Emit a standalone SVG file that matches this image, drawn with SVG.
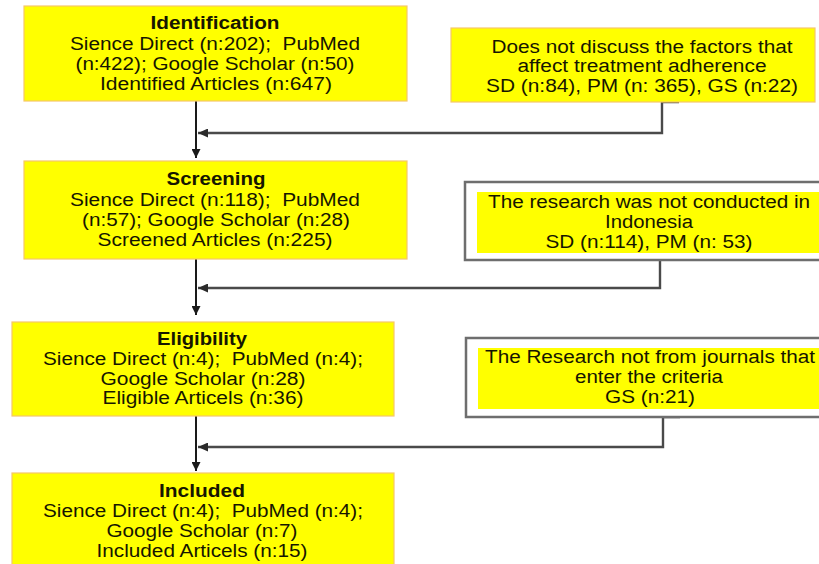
<svg xmlns="http://www.w3.org/2000/svg" width="819" height="564" viewBox="0 0 819 564">
<style>
.yb{fill:#ffff00;stroke:#f6c76a;stroke-width:1.2}
.ob{fill:#ffffff;stroke:#6e6e6e;stroke-width:2.5}
.iy{fill:#ffff00;stroke:none}
text{font-family:"Liberation Sans",Arial,sans-serif;font-size:18px;fill:#161600;text-anchor:middle}
.h{font-weight:bold}
.main{fill:none;stroke:#1a1a1a;stroke-width:2}
.side{fill:none;stroke:#4a4a4a;stroke-width:2.4}
</style>
<defs>
<marker id="ad" markerWidth="10" markerHeight="9" refX="9" refY="4.5" orient="auto" markerUnits="userSpaceOnUse">
<path d="M0,0 L9,4.5 L0,9 Z" fill="#1a1a1a"/>
</marker>
<marker id="al" markerWidth="11" markerHeight="9" refX="10" refY="4.5" orient="auto" markerUnits="userSpaceOnUse">
<path d="M0,0 L10,4.5 L0,9 Z" fill="#2a2a2a"/>
</marker>
</defs>

<g id="connectors">
<path class="main" d="M196,101 V158" marker-end="url(#ad)"/>
<path class="main" d="M196,259 V315" marker-end="url(#ad)"/>
<path class="main" d="M196,416 V471" marker-end="url(#ad)"/>
<path class="side" d="M679,102 H662 V133 H198" marker-end="url(#al)"/>
<path class="side" d="M678,259 H660 V288 H198" marker-end="url(#al)"/>
<path class="side" d="M680,417 H663 V447 H198" marker-end="url(#al)"/>
</g>

<g id="identification">
<rect class="yb" x="24" y="6" width="383" height="95"/>
<text class="h" x="215" y="29" textLength="129" lengthAdjust="spacingAndGlyphs">Identification</text>
<text x="215" y="50" textLength="290" lengthAdjust="spacingAndGlyphs" xml:space="preserve">Sience Direct (n:202);  PubMed</text>
<text x="215" y="70" textLength="279" lengthAdjust="spacingAndGlyphs">(n:422); Google Scholar (n:50)</text>
<text x="216" y="90" textLength="232" lengthAdjust="spacingAndGlyphs">Identified Articles (n:647)</text>
</g>

<g id="excluded1">
<rect class="yb" x="451" y="28" width="364" height="74"/>
<text x="642" y="53" textLength="301" lengthAdjust="spacingAndGlyphs">Does not discuss the factors that</text>
<text x="642" y="72" textLength="249" lengthAdjust="spacingAndGlyphs">affect treatment adherence</text>
<text x="642" y="92" textLength="312" lengthAdjust="spacingAndGlyphs">SD (n:84), PM (n: 365), GS (n:22)</text>
</g>

<g id="screening">
<rect class="yb" x="24" y="161" width="383" height="98"/>
<text class="h" x="216" y="185" textLength="99" lengthAdjust="spacingAndGlyphs">Screening</text>
<text x="215" y="206" textLength="290" lengthAdjust="spacingAndGlyphs" xml:space="preserve">Sience Direct (n:118);  PubMed</text>
<text x="216" y="226" textLength="268" lengthAdjust="spacingAndGlyphs">(n:57); Google Scholar (n:28)</text>
<text x="215" y="246" textLength="235" lengthAdjust="spacingAndGlyphs">Screened Articles (n:225)</text>
</g>

<g id="excluded2">
<rect class="ob" x="465" y="182" width="370" height="78"/>
<rect class="iy" x="477" y="192" width="342" height="61"/>
<text x="649" y="208" textLength="322" lengthAdjust="spacingAndGlyphs">The research was not conducted in</text>
<text x="649" y="228" textLength="88" lengthAdjust="spacingAndGlyphs">Indonesia</text>
<text x="649" y="248" textLength="207" lengthAdjust="spacingAndGlyphs">SD (n:114), PM (n: 53)</text>
</g>

<g id="eligibility">
<rect class="yb" x="12" y="322" width="382" height="94"/>
<text class="h" x="202" y="345" textLength="90" lengthAdjust="spacingAndGlyphs">Eligibility</text>
<text x="203" y="365" textLength="320" lengthAdjust="spacingAndGlyphs" xml:space="preserve">Sience Direct (n:4);  PubMed (n:4);</text>
<text x="203" y="385" textLength="205" lengthAdjust="spacingAndGlyphs">Google Scholar (n:28)</text>
<text x="203" y="404" textLength="201" lengthAdjust="spacingAndGlyphs">Eligible Articels (n:36)</text>
</g>

<g id="excluded3">
<rect class="ob" x="466" y="338" width="370" height="79"/>
<rect class="iy" x="478" y="348" width="341" height="61"/>
<text x="650" y="363" textLength="330" lengthAdjust="spacingAndGlyphs">The Research not from journals that</text>
<text x="649" y="383" textLength="148" lengthAdjust="spacingAndGlyphs">enter the criteria</text>
<text x="650" y="403" textLength="90" lengthAdjust="spacingAndGlyphs">GS (n:21)</text>
</g>

<g id="included">
<rect class="yb" x="12" y="473" width="382" height="100"/>
<text class="h" x="202" y="497" textLength="86" lengthAdjust="spacingAndGlyphs">Included</text>
<text x="203" y="517" textLength="320" lengthAdjust="spacingAndGlyphs" xml:space="preserve">Sience Direct (n:4);  PubMed (n:4);</text>
<text x="202" y="537" textLength="191" lengthAdjust="spacingAndGlyphs">Google Scholar (n:7)</text>
<text x="202" y="557" textLength="211" lengthAdjust="spacingAndGlyphs">Included Articels (n:15)</text>
</g>
</svg>
